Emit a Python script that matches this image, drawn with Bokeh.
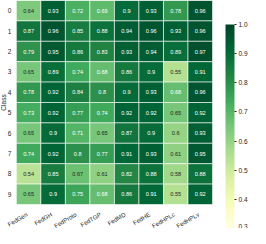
import numpy as np
from bokeh.plotting import figure
from bokeh.models import (ColumnDataSource, LinearColorMapper, ColorBar, FixedTicker,
                          PrintfTickFormatter, Range1d)
from bokeh.transform import transform
from bokeh.core.properties import value
from bokeh.embed import file_html
from bokeh.resources import INLINE

methods = ["FedGen", "FedGH", "FedProto", "FedTGP", "FedMD", "FedHE", "FedHPLc", "FedHPLv"]
classes = ["0", "1", "2", "3", "4", "5", "6", "7", "8", "9"]
row0 = [0.64, 0.93, 0.72, 0.69, 0.90, 0.93, 0.78, 0.96]
row1 = [0.87, 0.96, 0.85, 0.88, 0.94, 0.96, 0.93, 0.96]
row2 = [0.79, 0.95, 0.86, 0.83, 0.93, 0.94, 0.89, 0.97]
row3 = [0.65, 0.89, 0.74, 0.68, 0.86, 0.90, 0.55, 0.91]
row4 = [0.78, 0.92, 0.84, 0.80, 0.90, 0.93, 0.68, 0.96]
row5 = [0.73, 0.92, 0.77, 0.74, 0.92, 0.92, 0.65, 0.92]
row6 = [0.65, 0.90, 0.71, 0.65, 0.87, 0.90, 0.60, 0.93]
row7 = [0.74, 0.92, 0.80, 0.77, 0.91, 0.93, 0.61, 0.95]
row8 = [0.54, 0.85, 0.67, 0.61, 0.82, 0.88, 0.58, 0.88]
row9 = [0.65, 0.90, 0.75, 0.68, 0.86, 0.91, 0.55, 0.92]
rows = [row0, row1, row2, row3, row4, row5, row6, row7, row8, row9]
cbar_ticks = [0.3, 0.4, 0.5, 0.6, 0.7, 0.8, 0.9, 1.0]
y_title = "Class"
vmin, vmax = 0.3, 1.0

# YlGn colormap (matplotlib anchors) interpolated to 256 steps
anchors = ["#ffffe5", "#f7fcb9", "#d9f0a3", "#addd8e", "#78c679",
           "#41ab5d", "#238443", "#006837", "#004529"]
arr = np.array([[int(h[i:i + 2], 16) for i in (1, 3, 5)] for h in anchors], float)
pos = np.linspace(0, 1, len(anchors))
t = np.linspace(0, 1, 256)
rgb = np.stack([np.interp(t, pos, arr[:, k]) for k in range(3)], axis=1)
palette = ["#%02x%02x%02x" % tuple(int(round(c)) for c in r) for r in rgb]


def lum(r):
    c = r / 255.0
    c = np.where(c <= 0.03928, c / 12.92, ((c + 0.055) / 1.055) ** 2.4)
    return 0.2126 * c[0] + 0.7152 * c[1] + 0.0722 * c[2]


def fmt(v):
    s = "%.2f" % v
    return s.rstrip("0") if s.endswith("0") else s


xs, ys, vals, labels, tcolors = [], [], [], [], []
for ci, cls in enumerate(classes):
    for mi, m in enumerate(methods):
        v = rows[ci][mi]
        xs.append(mi + 0.5)
        ys.append(ci + 0.5)
        vals.append(v)
        labels.append(fmt(v))
        idx = int(np.clip((v - vmin) / (vmax - vmin), 0, 1) * 255)
        tcolors.append("#262626" if lum(rgb[idx]) > 0.408 else "#ffffff")

src = ColumnDataSource(dict(x=xs, y=ys, v=vals, t=labels, tc=tcolors))
mapper = LinearColorMapper(palette=palette, low=vmin, high=vmax)

n_rows, n_cols = len(classes), len(methods)
W, H = 250, 228
right_px = 34                  # panel for the colour bar
frame_w = W - right_px
left_px = 16                   # room for the row labels inside the frame
heat_w = 198                   # pixel width of the heatmap block
heat_h = 204                   # pixel height of the heatmap block
x0 = -n_cols * left_px / heat_w
x1 = x0 + n_cols * frame_w / heat_w
p = figure(x_range=Range1d(x0, x1), y_range=Range1d(n_rows * H / heat_h, 0),
           width=W, height=H,
           output_backend="svg", toolbar_location=None,
           x_axis_location=None, y_axis_location=None,
           min_border_left=0, min_border_top=0, min_border_right=right_px, min_border_bottom=0)
p.rect(x="x", y="y", width=1, height=1, source=src,
       fill_color=transform("v", mapper), line_color="white", line_width=0.6)
p.text(x="x", y="y", text="t", source=src, text_color="tc",
       text_align="center", text_baseline="middle",
       text_font=value("Liberation Sans"), text_font_size="5.6px")

# rotated column labels under the heatmap
xl_src = ColumnDataSource(dict(x=[i + 0.5 for i in range(n_cols)],
                               y=[n_rows] * n_cols, t=methods))
p.text(x="x", y="y", text="t", source=xl_src, angle=np.pi / 6,
       text_align="right", text_baseline="top", x_offset=-3, y_offset=7,
       text_font=value("Liberation Sans"), text_font_size="6px", text_color="#262626")

# row labels and row title left of the heatmap
yl_src = ColumnDataSource(dict(x=[0] * n_rows, y=[i + 0.5 for i in range(n_rows)], t=classes))
p.text(x="x", y="y", text="t", source=yl_src, text_align="right", text_baseline="middle",
       x_offset=-5, text_font=value("Liberation Sans"), text_font_size="6.5px",
       text_color="#262626")
p.text(x=[0], y=[n_rows / 2], text=[y_title], angle=np.pi / 2, text_align="center",
       text_baseline="middle", x_offset=-13,
       text_font=value("Liberation Sans"), text_font_size="6.5px", text_color="#262626")

p.grid.visible = False
p.outline_line_color = None
p.background_fill_color = None

cb = ColorBar(color_mapper=mapper, ticker=FixedTicker(ticks=cbar_ticks),
              formatter=PrintfTickFormatter(format="%.1f"), width=9, height=heat_h,
              padding=0, margin=0, location=(11, 0), bar_line_color=None,
              major_tick_in=0, major_tick_out=2, major_tick_line_color="#262626",
              major_label_text_font="Liberation Sans", major_label_text_font_size="6.5px",
              major_label_text_color="#262626", label_standoff=2,
              background_fill_color=None)
p.add_layout(cb, "right")

open("out.html", "w").write(file_html(p, INLINE))
